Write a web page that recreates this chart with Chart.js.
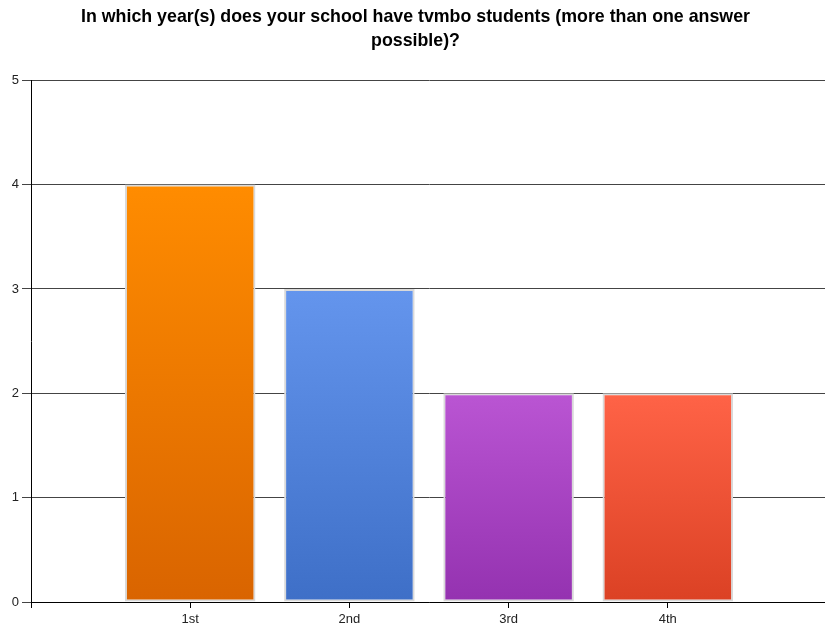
<!DOCTYPE html>
<html lang="en">
<head>
  <meta charset="UTF-8" />
  <title>tvmbo students per year</title>
  <script src="https://cdn.jsdelivr.net/npm/chart.js"></script>
  <style>
    html, body { margin: 0; padding: 0; background: #fff; overflow: hidden; }
    #chart { display: block; }
  </style>
</head>
<body>
  <canvas id="chart" width="831" height="629"></canvas>

  <script>
    // survey answers
    const years = ['1st', '2nd', '3rd', '4th'];
    const schools = [4, 3, 2, 2];
    const yMax = 5;
    // top / bottom colour of each bar's gradient
    const topColors = ['#ff8c00', '#6495ed', '#ba55d3', '#ff6347'];
    const bottomColors = ['#d96400', '#3e6fc7', '#9432b0', '#db4124'];

    // empty slot either side so the bars sit one column in from the axes
    const labels = [''].concat(years, ['']);
    const values = [null].concat(schools, [null]);

    function barGradient(ctx) {
      const chart = ctx.chart;
      const i = ctx.dataIndex - 1;
      if (i < 0 || i >= years.length) return 'transparent';
      const y = chart.scales && chart.scales.y;
      if (!chart.chartArea || !y) return topColors[i];
      const top = y.getPixelForValue(values[ctx.dataIndex]);
      const bottom = y.getPixelForValue(0);
      const g = chart.ctx.createLinearGradient(0, top, 0, bottom);
      g.addColorStop(0, topColors[i]);
      g.addColorStop(1, bottomColors[i]);
      return g;
    }

    const font = { family: 'Liberation Sans, Arial, sans-serif', size: 13 };

    new Chart(document.getElementById('chart').getContext('2d'), {
      type: 'bar',
      data: {
        labels: labels,
        datasets: [{
          data: values,
          backgroundColor: barGradient,
          borderColor: '#d9d9d9',
          borderWidth: 2,
          borderSkipped: false,
          barPercentage: 0.82,
          categoryPercentage: 1
        }]
      },
      options: {
        responsive: false,
        animation: false,
        layout: { padding: { top: 6, left: 0, right: 0, bottom: 0 } },
        plugins: {
          legend: { display: false },
          tooltip: { enabled: false },
          title: {
            display: true,
            text: ['In which year(s) does your school have tvmbo students (more than one answer', 'possible)?'],
            color: '#000',
            font: { family: 'Liberation Sans, Arial, sans-serif', size: 17.8, weight: 'bold', lineHeight: 1.3 },
            padding: { top: 0, bottom: 28 }
          }
        },
        scales: {
          x: {
            offset: false,
            grid: {
              offset: false,
              drawOnChartArea: false,
              drawTicks: true,
              tickLength: 6,
              color: '#000'
            },
            border: { color: '#000', width: 1 },
            ticks: { color: '#222', font: font, padding: 4, maxRotation: 0, autoSkip: false },
            afterFit: function (scale) { scale.height = 27; }
          },
          y: {
            min: 0,
            max: yMax,
            grid: { color: '#444', tickLength: 9 },
            border: { color: '#000', width: 1 },
            ticks: { stepSize: 1, color: '#222', font: font, padding: 3 },
            afterFit: function (scale) { scale.width = 31; }
          }
        }
      }
    });
  </script>
</body>
</html>
